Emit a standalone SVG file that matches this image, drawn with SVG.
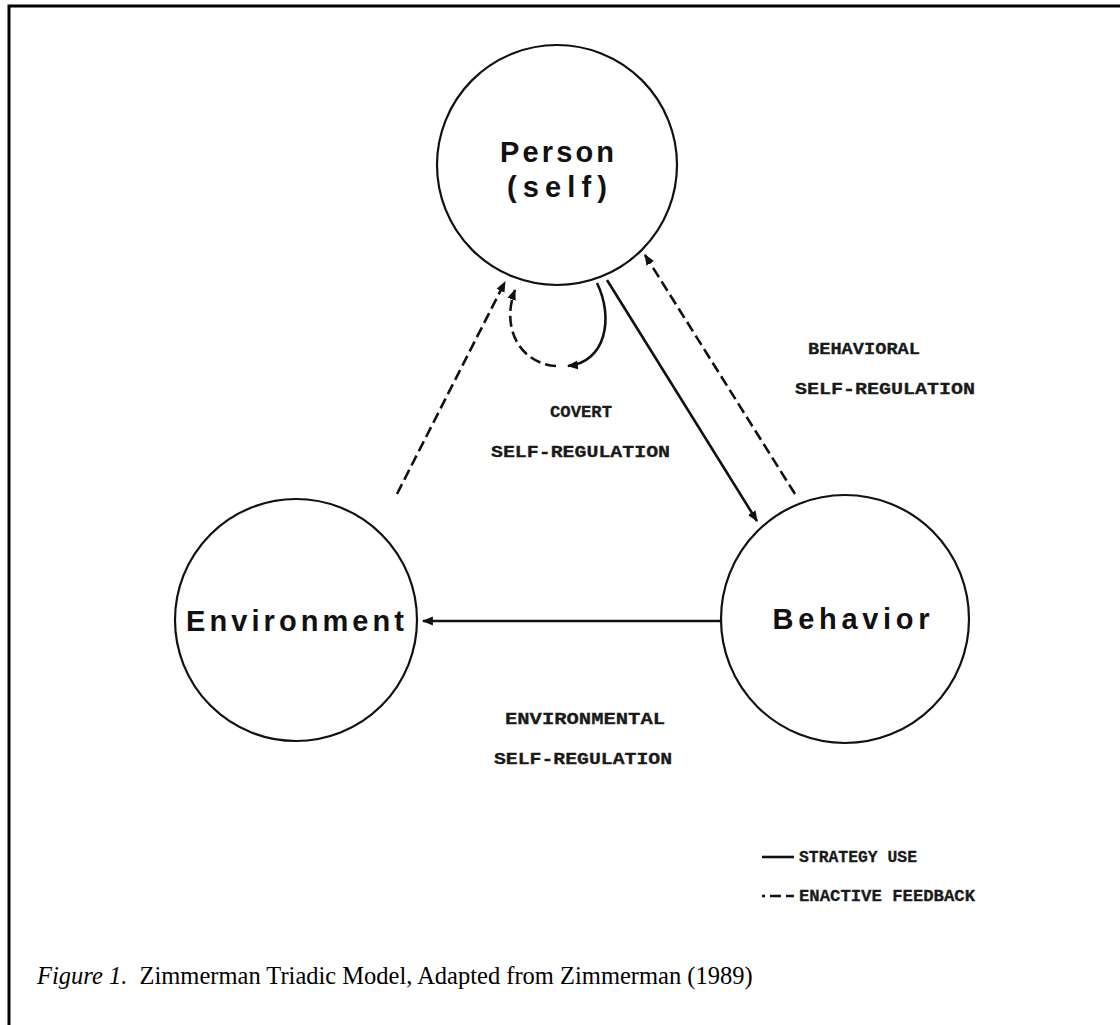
<svg xmlns="http://www.w3.org/2000/svg" width="1120" height="1025" viewBox="0 0 1120 1025">
  <style>
    .node { fill: #fff; stroke: #111; stroke-width: 2.2; }
    .nlabel { font-family: "Liberation Sans", Arial, sans-serif; font-weight: bold; font-size: 29px; fill: #111; text-anchor: middle; }
    .tlabel { font-family: "Liberation Mono", "Courier New", monospace; font-weight: bold; font-size: 17px; fill: #1a1a1a; stroke: #1a1a1a; stroke-width: 0.3; }
    .solid { fill: none; stroke: #111; stroke-width: 2.6; }
    .dashed { fill: none; stroke: #111; stroke-width: 2.6; stroke-dasharray: 11 5; }
    .caption { font-family: "Liberation Serif", "Times New Roman", serif; font-size: 24.5px; fill: #000; }
  </style>
  <defs>
    <marker id="head" viewBox="0 0 10 10" refX="9" refY="5" markerWidth="11" markerHeight="11" markerUnits="userSpaceOnUse" orient="auto">
      <path d="M0,1 L10,5 L0,9 z" fill="#111"/>
    </marker>
  </defs>

  <rect width="1120" height="1025" fill="#fff"/>
  <!-- page frame (top and left rules) -->
  <path d="M9,1025 L9,6 L1120,6" fill="none" stroke="#000" stroke-width="3"/>

  <!-- connectors -->
  <g id="connectors">
    <line class="dashed" x1="397" y1="494" x2="505" y2="282" marker-end="url(#head)"/>
    <line class="solid" x1="607" y1="280" x2="757" y2="521" marker-end="url(#head)"/>
    <line class="dashed" x1="795" y1="494" x2="645" y2="255" marker-end="url(#head)"/>
    <line class="solid" x1="720" y1="621" x2="423" y2="621" marker-end="url(#head)"/>
    <path class="solid" d="M597,283 C614,318 606,362 568,366" marker-end="url(#head)"/>
    <path class="dashed" d="M556,366 C522,364 500,330 515,290" marker-end="url(#head)"/>
  </g>

  <!-- nodes -->
  <g id="node-person">
    <circle class="node" cx="557" cy="165" r="120"/>
    <text class="nlabel" x="557" y="162" textLength="114" lengthAdjust="spacing">Person</text>
    <text class="nlabel" x="557" y="197" textLength="100" lengthAdjust="spacing">(self)</text>
  </g>
  <g id="node-environment">
    <circle class="node" cx="296" cy="620" r="121"/>
    <text class="nlabel" x="295" y="631" textLength="218" lengthAdjust="spacing">Environment</text>
  </g>
  <g id="node-behavior">
    <circle class="node" cx="845" cy="619" r="124"/>
    <text class="nlabel" x="851" y="629" textLength="157" lengthAdjust="spacing">Behavior</text>
  </g>

  <!-- region labels -->
  <g id="label-behavioral">
    <text class="tlabel" x="808" y="354" textLength="112" lengthAdjust="spacingAndGlyphs">BEHAVIORAL</text>
    <text class="tlabel" x="795" y="394" textLength="180" lengthAdjust="spacingAndGlyphs">SELF-REGULATION</text>
  </g>
  <g id="label-covert">
    <text class="tlabel" x="550" y="417" textLength="62" lengthAdjust="spacingAndGlyphs">COVERT</text>
    <text class="tlabel" x="491" y="457" textLength="179" lengthAdjust="spacingAndGlyphs">SELF-REGULATION</text>
  </g>
  <g id="label-environmental">
    <text class="tlabel" x="505" y="724" textLength="160" lengthAdjust="spacingAndGlyphs">ENVIRONMENTAL</text>
    <text class="tlabel" x="494" y="764" textLength="178" lengthAdjust="spacingAndGlyphs">SELF-REGULATION</text>
  </g>

  <!-- legend -->
  <g id="legend">
    <line class="solid" x1="762" y1="857" x2="794" y2="857"/>
    <text class="tlabel" x="799" y="862" textLength="118" lengthAdjust="spacingAndGlyphs">STRATEGY USE</text>
    <line x1="762" y1="896" x2="765" y2="896" stroke="#111" stroke-width="2.6"/>
    <line class="dashed" x1="770" y1="896" x2="794" y2="896" stroke-dasharray="9 3"/>
    <text class="tlabel" x="799" y="901" textLength="176" lengthAdjust="spacingAndGlyphs">ENACTIVE FEEDBACK</text>
  </g>

  <!-- caption -->
  <text class="caption" x="37" y="984" xml:space="preserve"><tspan font-style="italic">Figure 1.</tspan>  Zimmerman Triadic Model, Adapted from Zimmerman (1989)</text>
</svg>
